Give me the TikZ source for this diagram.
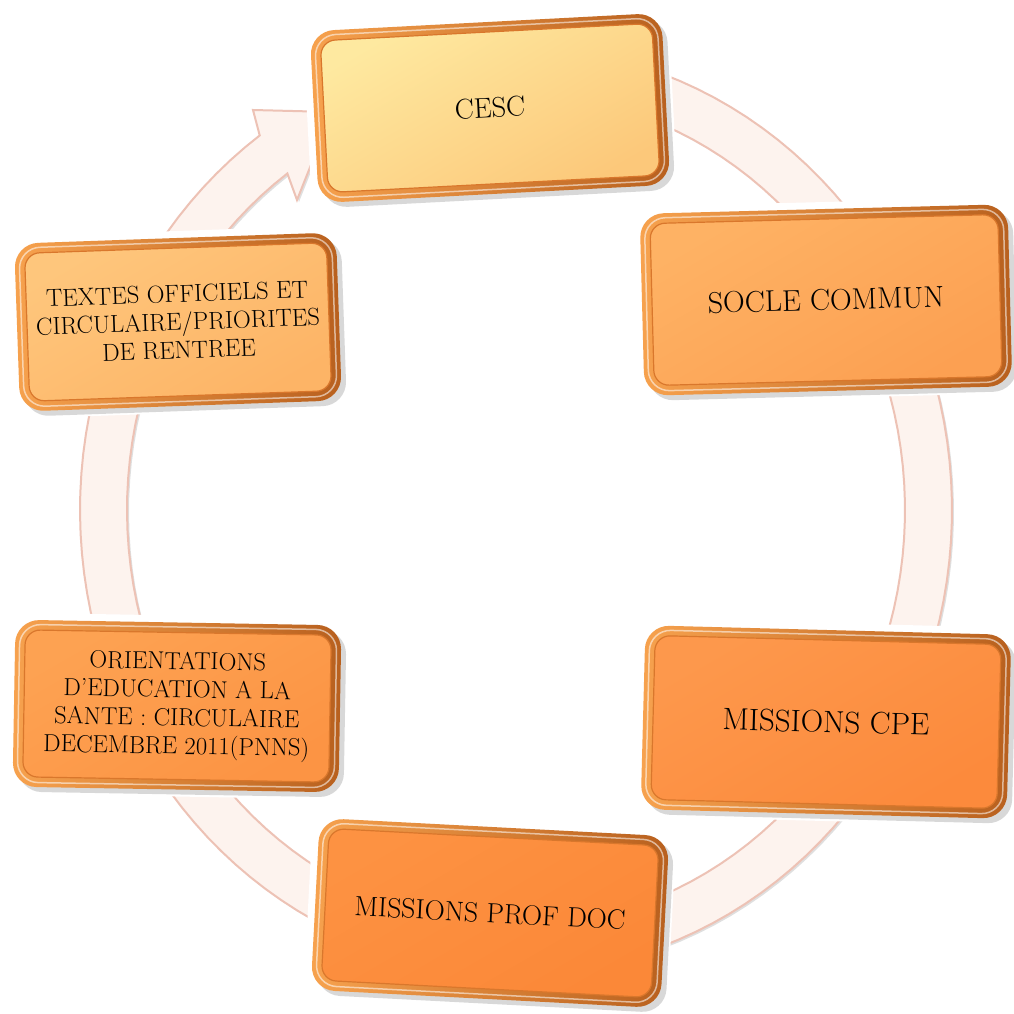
\documentclass[tikz,border=0pt]{standalone}
\usepackage{fontspec}
\usetikzlibrary{shadows}
\definecolor{ringface}{HTML}{FDF3EE}
\definecolor{ringedge}{HTML}{EDC2B5}
\definecolor{rimA}{HTML}{F7A24E}
\definecolor{rimM}{HTML}{EF8834}
\definecolor{rimB}{HTML}{B8601E}
\definecolor{faceline}{HTML}{D9772C}
\newcommand\cyclebox[9]{%
  \node[rim, rotate=#4, minimum width=#5pt, minimum height=#6pt] (#1) at (#2,#3) {};
  \node[hilite, rotate=#4, minimum width={#5pt-9pt}, minimum height={#6pt-9pt}] (#1-hl) at (#1.center) {};
  \node[face, #7, rotate=#4, minimum width={#5pt-20pt}, minimum height={#6pt-20pt}, font=\fontsize{#8}{28.2}\selectfont] (#1-face) at (#1.center) {#9};
}
\begin{document}
\begin{tikzpicture}[x=1pt,y=-1pt,
  ringfill/.style={fill=ringface, draw=ringedge, line width=2pt},
  rim/.style={rectangle, rounded corners=24pt, draw=none, inner sep=0pt,
     left color=rimA, middle color=rimM, right color=rimB,
     preaction={draw=white, line width=14pt},
     drop shadow={shadow xshift=5pt, shadow yshift=-5pt, opacity=.3}},
  hilite/.style={rectangle, rounded corners=21pt, draw=white, opacity=.55, line width=1.5pt, inner sep=0pt},
  face/.style={rectangle, rounded corners=15pt, draw=faceline, line width=1.2pt, inner sep=0pt, align=center, text=black},
  f1/.style={top color={rgb,255:red,254;green,233;blue,160}, bottom color={rgb,255:red,252;green,200;blue,122}, shading angle=30},
  f2/.style={top color={rgb,255:red,254;green,178;blue,100}, bottom color={rgb,255:red,252;green,160;blue,82}, shading angle=30},
  f3/.style={top color={rgb,255:red,253;green,152;blue,76}, bottom color={rgb,255:red,252;green,138;blue,60}, shading angle=30},
  f4/.style={top color={rgb,255:red,253;green,146;blue,66}, bottom color={rgb,255:red,251;green,136;blue,56}, shading angle=30},
  f5/.style={top color={rgb,255:red,253;green,162;blue,82}, bottom color={rgb,255:red,252;green,148;blue,68}, shading angle=30},
  f6/.style={top color={rgb,255:red,254;green,198;blue,124}, bottom color={rgb,255:red,253;green,180;blue,102}, shading angle=30}]
\useasboundingbox[fill=white] (0,0) rectangle (1013,1014);
% ring arrow
\path[ringfill, drop shadow={shadow xshift=2pt, shadow yshift=-2pt, opacity=.25}]
  plot[domain=110:-234, samples=140] ({516+436*cos(\x)},{510-463*sin(\x)})
  -- (253,110) -- (332,112) -- (297,200)
  -- plot[domain=-234:110, samples=140] ({516+389*cos(\x)},{510-416*sin(\x)})
  -- cycle;
% boxes
\cyclebox{cesc}{490}{108}{3}{352}{172}{f1}{28.5}{CESC}
\cyclebox{socle}{826}{300}{1.5}{368}{182}{f2}{30}{SOCLE COMMUN}
\cyclebox{cpe}{826}{722}{-1.5}{366}{184}{f3}{31}{MISSIONS CPE}
\cyclebox{doc}{490}{913}{-3}{350}{172}{f4}{27.8}{MISSIONS PROF DOC}
\cyclebox{orient}{177}{706}{-1}{326}{167}{f5}{24.6}{ORIENTATIONS\\D’EDUCATION A LA\\SANTE : CIRCULAIRE\\DECEMBRE 2011(PNNS)}
\cyclebox{textes}{178}{322}{2}{322}{168}{f6}{24.6}{TEXTES OFFICIELS ET\\CIRCULAIRE/PRIORITES\\DE RENTREE}
\end{tikzpicture}
\end{document}
